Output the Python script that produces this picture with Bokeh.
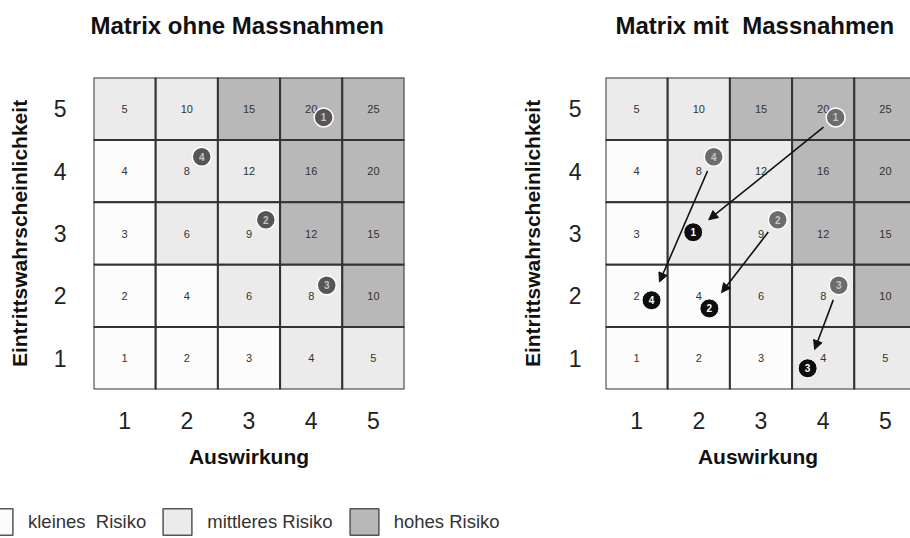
from bokeh.plotting import figure
from bokeh.models import (ColumnDataSource, Arrow, NormalHead, Legend, LegendItem,
                          Range1d, FixedTicker, Title)
from bokeh.layouts import column, row
from bokeh.embed import file_html
from bokeh.resources import INLINE
from bokeh.core.properties import value

# ---------------- data ----------------
impact = [1, 2, 3, 4, 5]                 # Auswirkung (x)
probability = [5, 4, 3, 2, 1]            # Eintrittswahrscheinlichkeit (rows, top to bottom)
score_rows = [
    [5, 10, 15, 20, 25],
    [4, 8, 12, 16, 20],
    [3, 6, 9, 12, 15],
    [2, 4, 6, 8, 10],
    [1, 2, 3, 4, 5],
]
level_rows = [            # 0 = kleines, 1 = mittleres, 2 = hohes Risiko
    [1, 1, 2, 2, 2],
    [0, 1, 1, 2, 2],
    [0, 1, 1, 2, 2],
    [0, 0, 1, 1, 2],
    [0, 0, 0, 1, 1],
]
risk_levels = [0, 1, 2]
risk_labels = ["kleines  Risiko", "mittleres Risiko", "hohes Risiko"]
risk_colors = ["#fcfcfc", "#ebebeb", "#b8b8b8"]

risk_ids = ["1", "2", "3", "4"]
before_x = [4.20, 3.27, 4.25, 2.24]
before_y = [4.86, 3.22, 2.17, 4.23]
after_x = [1.91, 2.17, 3.75, 1.24]
after_y = [3.02, 1.80, 0.84, 1.93]

tick_values = [1, 2, 3, 4, 5]
title_left = "Matrix ohne Massnahmen"
title_right = "Matrix mit\u00a0 Massnahmen"
x_label = "Auswirkung"
y_label = "Eintrittswahrscheinlichkeit"

FONT = "Liberation Sans"
CELL_PX = 62.2

# ---------------- cell table ----------------
cx, cy, cs, cc = [], [], [], []
for r, p in enumerate(probability):
    for c, i in enumerate(impact):
        cx.append(i)
        cy.append(p)
        cs.append(str(score_rows[r][c]))
        cc.append(risk_colors[level_rows[r][c]])


def make_title(title, width, frame_px, border_left, offset):
    t = figure(width=width, height=50, output_backend="svg", toolbar_location=None,
               x_range=Range1d(0, 1), y_range=Range1d(0, 1),
               min_border_left=border_left, min_border_right=width - border_left - frame_px,
               min_border_top=0, min_border_bottom=0,
               background_fill_color="white", border_fill_color="white")
    t.outline_line_color = None
    t.axis.visible = False
    t.grid.visible = False
    t.title = Title(text=title, align="left", offset=offset, standoff=19,
                    text_font=FONT, text_font_size="24px", text_font_style="bold",
                    text_color="#111111")
    return t


def make_matrix(width, frame_px, border_left, tick_standoff, ylabel_standoff,
                before_color, show_after):
    x_end = 0.5 + frame_px / CELL_PX
    p = figure(width=width, height=440, output_backend="svg", toolbar_location=None,
               x_range=Range1d(0.5, x_end), y_range=Range1d(0.5, 5.5),
               min_border_left=border_left, min_border_right=width - border_left - frame_px,
               min_border_top=27, min_border_bottom=101,
               background_fill_color="white", border_fill_color="white")
    p.outline_line_color = None
    p.grid.visible = False

    for ax in (p.xaxis[0], p.yaxis[0]):
        ax.ticker = FixedTicker(ticks=tick_values)
        ax.axis_line_color = None
        ax.major_tick_line_color = None
        ax.minor_tick_line_color = None
        ax.major_label_text_font = FONT
        ax.major_label_text_font_size = "23px"
        ax.major_label_text_color = "#222222"
        ax.axis_label_text_font = FONT
        ax.axis_label_text_font_size = "21px"
        ax.axis_label_text_font_style = "bold"
        ax.axis_label_text_color = "#111111"
    p.xaxis.axis_label = x_label
    p.yaxis.axis_label = y_label
    p.xaxis.major_label_standoff = 16
    p.xaxis.axis_label_standoff = 13
    p.yaxis.major_label_standoff = tick_standoff
    p.yaxis.axis_label_standoff = ylabel_standoff
    p.yaxis.major_label_orientation = "horizontal"

    cells = ColumnDataSource(dict(x=cx, y=cy, s=cs, c=cc))
    p.rect("x", "y", width=1, height=1, source=cells, fill_color="c",
           line_color="#333333", line_width=2)
    p.text("x", "y", text="s", source=cells, text_align="center", text_baseline="middle",
           text_font=value(FONT), text_font_size="11px", text_color="#333333")

    if show_after:
        xs, ys, xe, ye = [], [], [], []
        for bx, by, ax_, ay in zip(before_x, before_y, after_x, after_y):
            dx, dy = ax_ - bx, ay - by
            ln = (dx * dx + dy * dy) ** 0.5
            ux, uy = dx / ln, dy / ln
            xs.append(bx + 0.25 * ux); ys.append(by + 0.25 * uy)
            xe.append(ax_ - 0.32 * ux); ye.append(ay - 0.32 * uy)
        arr = ColumnDataSource(dict(xs=xs, ys=ys, xe=xe, ye=ye))
        p.add_layout(Arrow(x_start="xs", y_start="ys", x_end="xe", y_end="ye", source=arr,
                           line_color="#111111", line_width=1.6,
                           end=NormalHead(size=9, fill_color="#111111", line_color="#111111")))

    before = ColumnDataSource(dict(x=before_x, y=before_y, t=risk_ids))
    p.scatter("x", "y", source=before, size=19, fill_color=before_color,
              line_color="white", line_width=1.5)
    p.text("x", "y", text="t", source=before, text_align="center", text_baseline="middle",
           text_font=value(FONT), text_font_size="10px", text_font_style="bold",
           text_color="#c4c4c4")

    if show_after:
        after = ColumnDataSource(dict(x=after_x, y=after_y, t=risk_ids))
        p.scatter("x", "y", source=after, size=19, fill_color="#0d0d0d",
                  line_color="white", line_width=1)
        p.text("x", "y", text="t", source=after, text_align="center", text_baseline="middle",
               text_font=value(FONT), text_font_size="10px", text_font_style="bold",
               text_color="white")
    return p


t1 = make_title(title_left, 470, 311, 93, -3)
t2 = make_title(title_right, 440, 305, 135, 10)
p1 = make_matrix(470, 311, 93, 21, 20, "#555555", False)
p2 = make_matrix(440, 305, 135, 18, 22, "#6c6c6c", True)

# ---------------- legend strip ----------------
p3 = figure(width=910, height=48, output_backend="svg", toolbar_location=None,
            x_range=Range1d(0, 1), y_range=Range1d(0, 1),
            min_border_left=0, min_border_right=0, min_border_top=0, min_border_bottom=0,
            background_fill_color="white", border_fill_color="white")
p3.outline_line_color = None
p3.axis.visible = False
p3.grid.visible = False
items = []
for lev, lab, col in zip(risk_levels, risk_labels, risk_colors):
    # legend swatch renderer; its sample lies outside the visible range
    src = ColumnDataSource(dict(x=[lev + 10], y=[lev + 10]))
    r = p3.rect("x", "y", source=src, width=1, height=1, fill_color=col,
                line_color="#555555", line_width=1.5)
    items.append(LegendItem(label=lab, renderers=[r], index=0))
leg = Legend(items=items, orientation="horizontal", location=(-20, 0),
             glyph_width=36, glyph_height=33, label_standoff=12, spacing=13,
             padding=0, margin=0, border_line_alpha=0, background_fill_alpha=0,
             label_text_font=FONT, label_text_font_size="18.5px", label_text_color="#333333")
p3.add_layout(leg, "center")

layout = column(row(t1, t2), row(p1, p2), p3)
open("out.html", "w").write(file_html(layout, INLINE))
